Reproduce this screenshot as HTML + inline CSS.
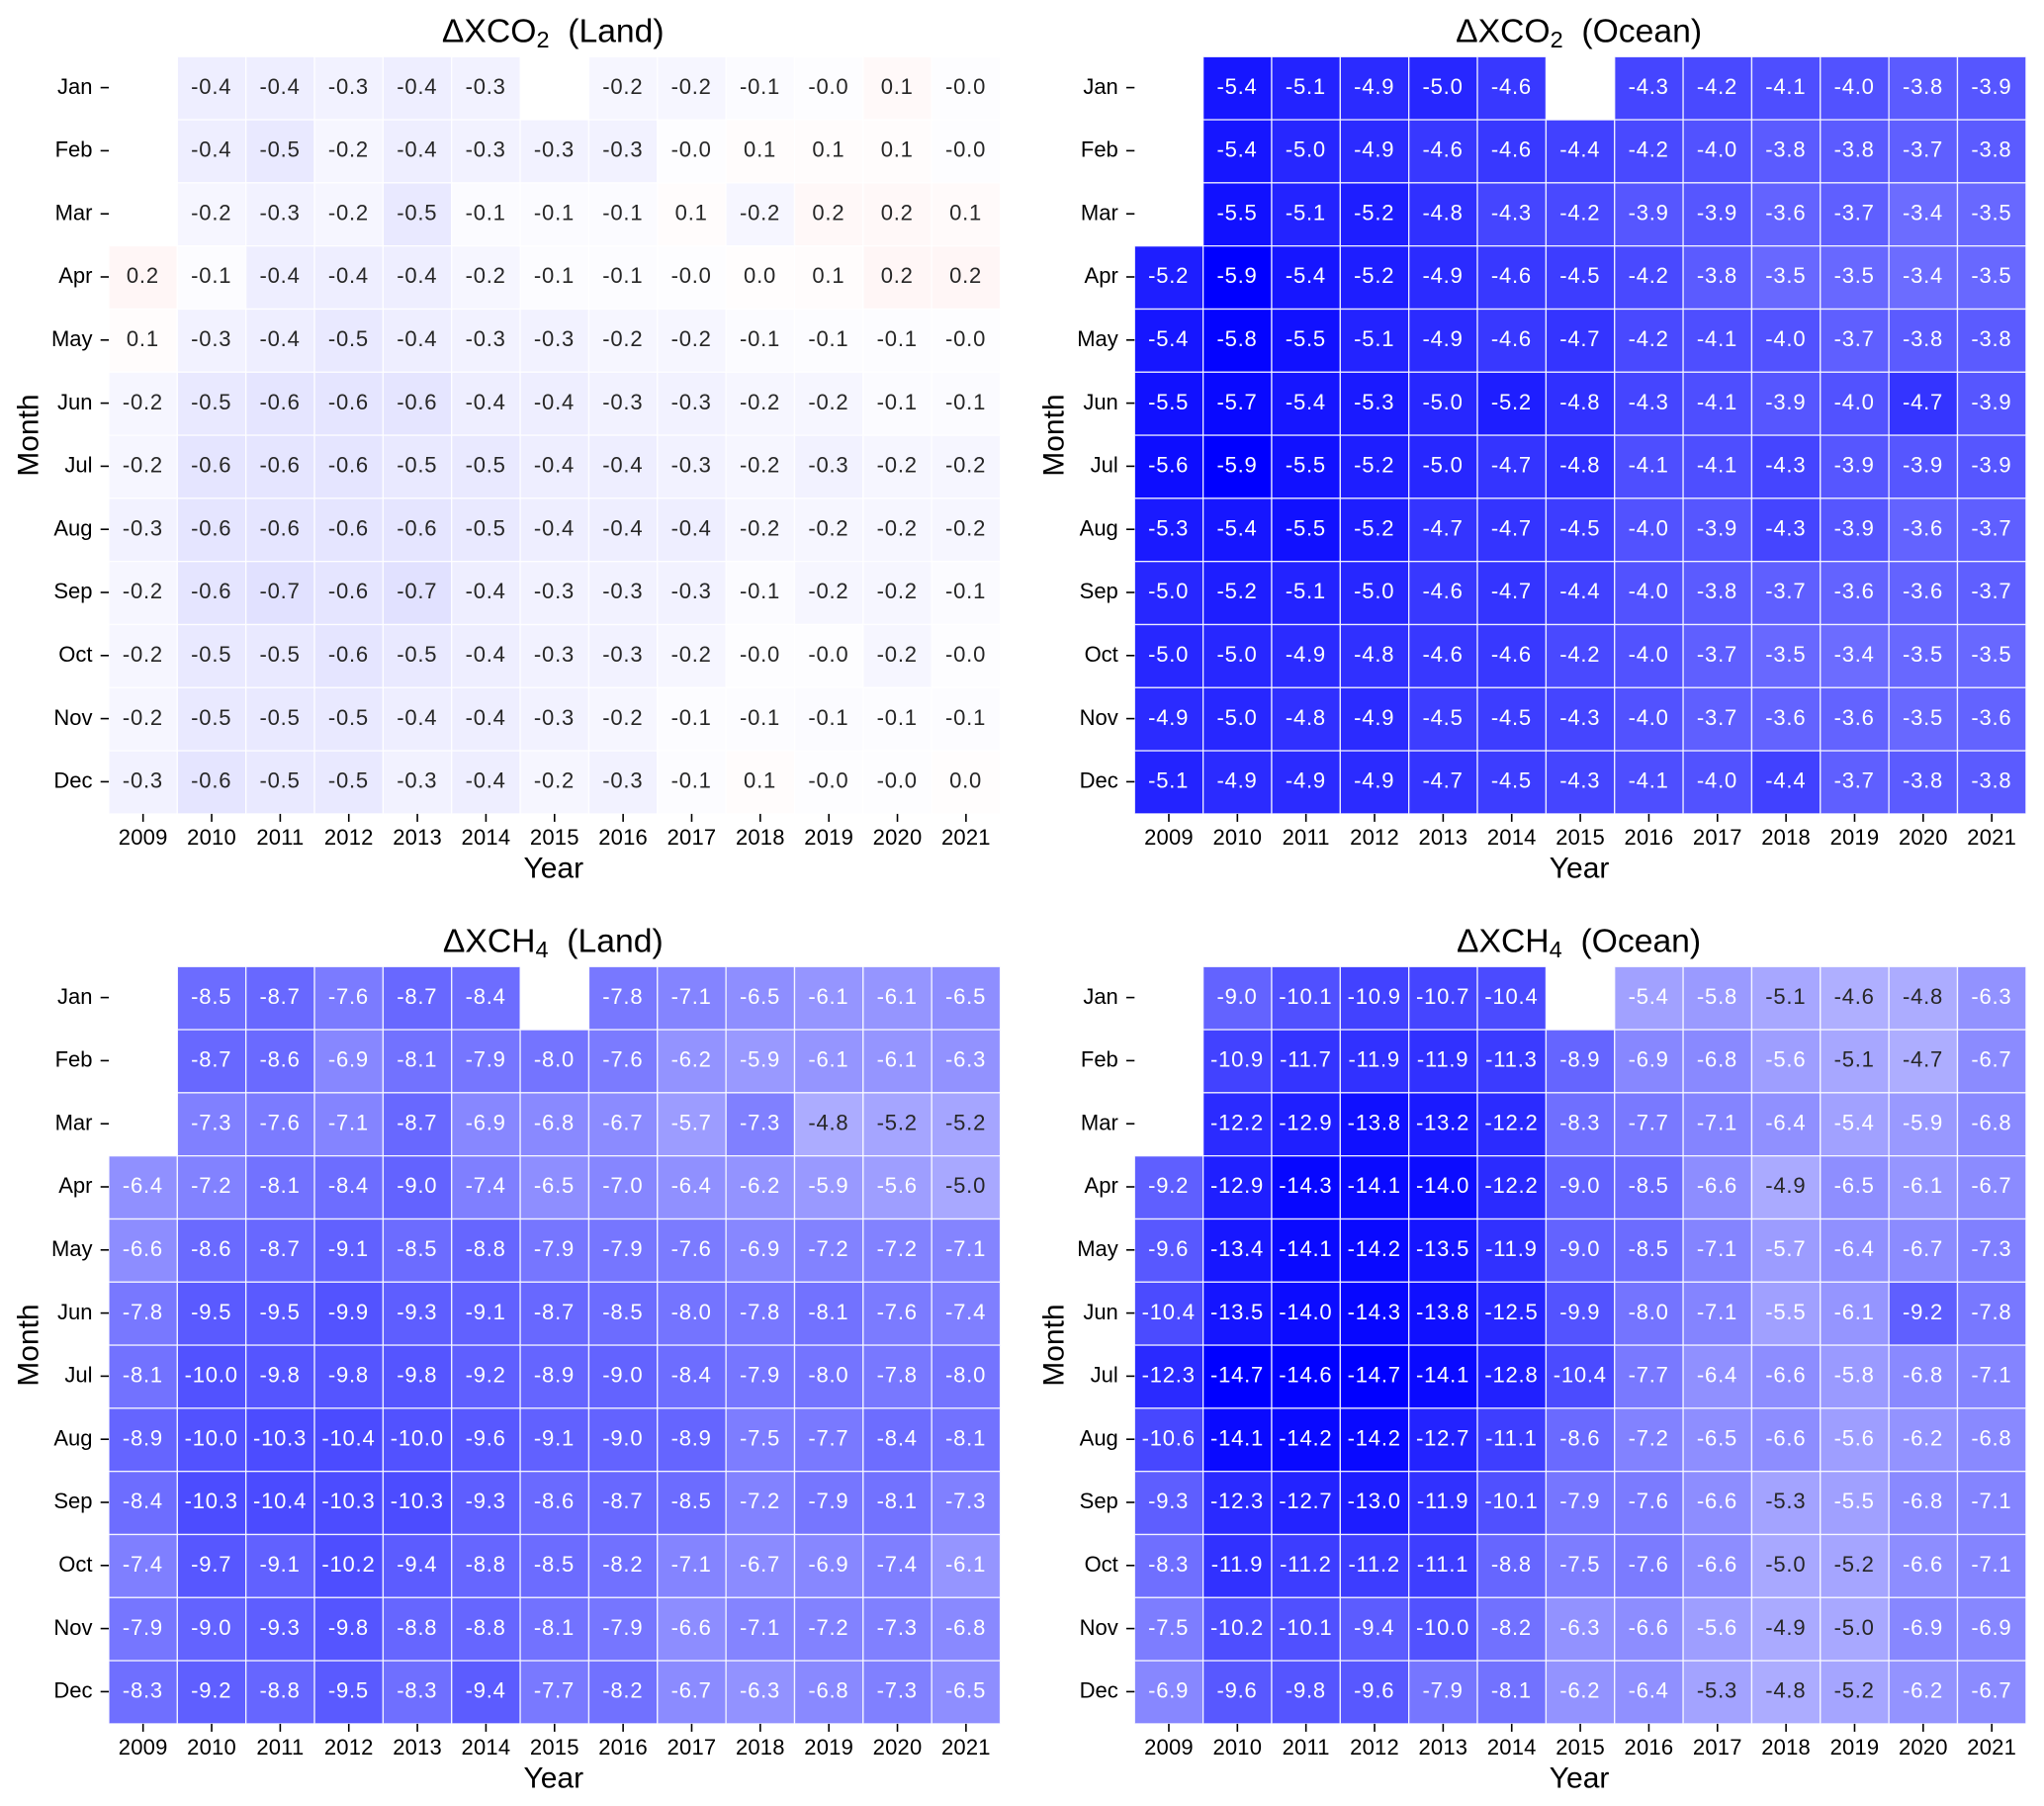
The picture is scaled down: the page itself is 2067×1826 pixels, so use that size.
<!DOCTYPE html>
<html lang="en">
<head>
<meta charset="utf-8">
<title>Monthly XCO2 and XCH4 differences by year</title>
<style>
html,body{margin:0;padding:0;background:#fff;}
svg{display:block;font-family:"Liberation Sans",Arial,sans-serif;}
</style>
</head>
<body>
<svg id="figure" xmlns="http://www.w3.org/2000/svg" width="2067" height="1826" viewBox="0 0 2067 1826"></svg>
<script>
const years = [2009,2010,2011,2012,2013,2014,2015,2016,2017,2018,2019,2020,2021];
const months = ["Jan","Feb","Mar","Apr","May","Jun","Jul","Aug","Sep","Oct","Nov","Dec"];
const colorLimitCO2 = 5.9;
const colorLimitCH4 = 14.7;

const xco2Land = [
[null,-0.4,-0.4,-0.3,-0.4,-0.3,null,-0.2,-0.2,-0.1,-0.04,0.14,-0.04],
[null,-0.4,-0.5,-0.2,-0.4,-0.3,-0.3,-0.3,-0.04,0.06,0.06,0.06,-0.04],
[null,-0.2,-0.3,-0.2,-0.5,-0.1,-0.1,-0.1,0.06,-0.2,0.16,0.16,0.12],
[0.2,-0.07,-0.4,-0.4,-0.4,-0.2,-0.07,-0.07,-0.04,0.04,0.06,0.2,0.2],
[0.06,-0.3,-0.4,-0.5,-0.4,-0.3,-0.3,-0.2,-0.2,-0.1,-0.07,-0.07,-0.04],
[-0.2,-0.5,-0.6,-0.6,-0.6,-0.4,-0.4,-0.3,-0.3,-0.2,-0.2,-0.1,-0.1],
[-0.2,-0.6,-0.6,-0.6,-0.5,-0.5,-0.4,-0.4,-0.3,-0.2,-0.3,-0.2,-0.2],
[-0.3,-0.6,-0.6,-0.6,-0.6,-0.5,-0.4,-0.4,-0.4,-0.2,-0.2,-0.2,-0.2],
[-0.2,-0.6,-0.7,-0.6,-0.7,-0.4,-0.3,-0.3,-0.3,-0.1,-0.2,-0.2,-0.1],
[-0.2,-0.5,-0.5,-0.6,-0.5,-0.4,-0.3,-0.3,-0.2,-0.04,-0.04,-0.2,-0.04],
[-0.2,-0.5,-0.5,-0.5,-0.4,-0.4,-0.3,-0.2,-0.07,-0.07,-0.1,-0.07,-0.07],
[-0.3,-0.6,-0.5,-0.5,-0.3,-0.4,-0.2,-0.3,-0.07,0.06,-0.04,-0.04,0.04]
];
const xco2Ocean = [
[null,-5.4,-5.1,-4.9,-5.0,-4.6,null,-4.3,-4.2,-4.1,-4.0,-3.8,-3.9],
[null,-5.4,-5.0,-4.9,-4.6,-4.6,-4.4,-4.2,-4.0,-3.8,-3.8,-3.7,-3.8],
[null,-5.5,-5.1,-5.2,-4.8,-4.3,-4.2,-3.9,-3.9,-3.6,-3.7,-3.4,-3.5],
[-5.2,-5.9,-5.4,-5.2,-4.9,-4.6,-4.5,-4.2,-3.8,-3.5,-3.5,-3.4,-3.5],
[-5.4,-5.8,-5.5,-5.1,-4.9,-4.6,-4.7,-4.2,-4.1,-4.0,-3.7,-3.8,-3.8],
[-5.5,-5.7,-5.4,-5.3,-5.0,-5.2,-4.8,-4.3,-4.1,-3.9,-4.0,-4.7,-3.9],
[-5.6,-5.9,-5.5,-5.2,-5.0,-4.7,-4.8,-4.1,-4.1,-4.3,-3.9,-3.9,-3.9],
[-5.3,-5.4,-5.5,-5.2,-4.7,-4.7,-4.5,-4.0,-3.9,-4.3,-3.9,-3.6,-3.7],
[-5.0,-5.2,-5.1,-5.0,-4.6,-4.7,-4.4,-4.0,-3.8,-3.7,-3.6,-3.6,-3.7],
[-5.0,-5.0,-4.9,-4.8,-4.6,-4.6,-4.2,-4.0,-3.7,-3.5,-3.4,-3.5,-3.5],
[-4.9,-5.0,-4.8,-4.9,-4.5,-4.5,-4.3,-4.0,-3.7,-3.6,-3.6,-3.5,-3.6],
[-5.1,-4.9,-4.9,-4.9,-4.7,-4.5,-4.3,-4.1,-4.0,-4.4,-3.7,-3.8,-3.8]
];
const xch4Land = [
[null,-8.5,-8.7,-7.6,-8.7,-8.4,null,-7.8,-7.1,-6.5,-6.1,-6.1,-6.5],
[null,-8.7,-8.6,-6.9,-8.1,-7.9,-8.0,-7.6,-6.2,-5.9,-6.1,-6.1,-6.3],
[null,-7.3,-7.6,-7.1,-8.7,-6.9,-6.8,-6.7,-5.7,-7.3,-4.8,-5.2,-5.2],
[-6.4,-7.2,-8.1,-8.4,-9.0,-7.4,-6.5,-7.0,-6.4,-6.2,-5.9,-5.6,-5.0],
[-6.6,-8.6,-8.7,-9.1,-8.5,-8.8,-7.9,-7.9,-7.6,-6.9,-7.2,-7.2,-7.1],
[-7.8,-9.5,-9.5,-9.9,-9.3,-9.1,-8.7,-8.5,-8.0,-7.8,-8.1,-7.6,-7.4],
[-8.1,-10.0,-9.8,-9.8,-9.8,-9.2,-8.9,-9.0,-8.4,-7.9,-8.0,-7.8,-8.0],
[-8.9,-10.0,-10.3,-10.4,-10.0,-9.6,-9.1,-9.0,-8.9,-7.5,-7.7,-8.4,-8.1],
[-8.4,-10.3,-10.4,-10.3,-10.3,-9.3,-8.6,-8.7,-8.5,-7.2,-7.9,-8.1,-7.3],
[-7.4,-9.7,-9.1,-10.2,-9.4,-8.8,-8.5,-8.2,-7.1,-6.7,-6.9,-7.4,-6.1],
[-7.9,-9.0,-9.3,-9.8,-8.8,-8.8,-8.1,-7.9,-6.6,-7.1,-7.2,-7.3,-6.8],
[-8.3,-9.2,-8.8,-9.5,-8.3,-9.4,-7.7,-8.2,-6.7,-6.3,-6.8,-7.3,-6.5]
];
const xch4Ocean = [
[null,-9.0,-10.1,-10.9,-10.7,-10.4,null,-5.4,-5.8,-5.1,-4.6,-4.8,-6.3],
[null,-10.9,-11.7,-11.9,-11.9,-11.3,-8.9,-6.9,-6.8,-5.6,-5.1,-4.7,-6.7],
[null,-12.2,-12.9,-13.8,-13.2,-12.2,-8.3,-7.7,-7.1,-6.4,-5.4,-5.9,-6.8],
[-9.2,-12.9,-14.3,-14.1,-14.0,-12.2,-9.0,-8.5,-6.6,-4.9,-6.5,-6.1,-6.7],
[-9.6,-13.4,-14.1,-14.2,-13.5,-11.9,-9.0,-8.5,-7.1,-5.7,-6.4,-6.7,-7.3],
[-10.4,-13.5,-14.0,-14.3,-13.8,-12.5,-9.9,-8.0,-7.1,-5.5,-6.1,-9.2,-7.8],
[-12.3,-14.7,-14.6,-14.7,-14.1,-12.8,-10.4,-7.7,-6.4,-6.6,-5.8,-6.8,-7.1],
[-10.6,-14.1,-14.2,-14.2,-12.7,-11.1,-8.6,-7.2,-6.5,-6.6,-5.6,-6.2,-6.8],
[-9.3,-12.3,-12.7,-13.0,-11.9,-10.1,-7.9,-7.6,-6.6,-5.3,-5.5,-6.8,-7.1],
[-8.3,-11.9,-11.2,-11.2,-11.1,-8.8,-7.5,-7.6,-6.6,-5.0,-5.2,-6.6,-7.1],
[-7.5,-10.2,-10.1,-9.4,-10.0,-8.2,-6.3,-6.6,-5.6,-4.9,-5.0,-6.9,-6.9],
[-6.9,-9.6,-9.8,-9.6,-7.9,-8.1,-6.2,-6.4,-5.3,-4.8,-5.2,-6.2,-6.7]
];

const svgNS = "http://www.w3.org/2000/svg";
const figure = document.getElementById("figure");

function make(tag, attrs, parent, text) {
  const el = document.createElementNS(svgNS, tag);
  for (const k in attrs) el.setAttribute(k, attrs[k]);
  if (text !== undefined) el.textContent = text;
  parent.appendChild(el);
  return el;
}

function bwrRgb(v, limit) {
  const t = Math.max(-1, Math.min(1, v / limit));
  if (t <= 0) {
    const c = Math.round(255 * (1 + t));
    return [c, c, 255];
  }
  const c = Math.round(255 * (1 - t));
  return [255, c, c];
}

function luminance(rgb) {
  const lin = rgb.map(function (c) {
    const s = c / 255;
    return s <= 0.03928 ? s / 12.92 : Math.pow((s + 0.055) / 1.055, 2.4);
  });
  return 0.2126 * lin[0] + 0.7152 * lin[1] + 0.0722 * lin[2];
}

function drawPanel(panelName, gas, region, values, limit, left, top) {
  const cellW = 69.35;
  const cellH = 63.8;
  const xAt = function (i) { return left + i * cellW; };
  const yAt = function (j) { return top + j * cellH; };

  const panel = make("g", {}, figure);
  
  

  const centerX = left + cellW * years.length / 2;

  const title = make("text", {x: centerX - 1.5, y: top - 14.6, "text-anchor": "middle", "font-size": 33.7, fill: "#000"}, panel);
  
  
  make("tspan", {}, title, "\u0394X" + gas[0]);
  make("tspan", {dy: 5.5, "font-size": 23.5}, title, gas[1]);
  make("tspan", {dy: -5.5}, title, "\u00A0\u00A0(" + region + ")");

  values.forEach(function (row, j) {
    row.forEach(function (v, i) {
      if (v === null) return;
      const rgb = bwrRgb(v, limit);
      const cell = make("rect", {x: xAt(i), y: yAt(j), width: cellW, height: cellH, fill: "rgb(" + rgb.join(",") + ")", stroke: "#fff", "stroke-width": 1.3, "stroke-opacity": 0.85}, panel);
      
      
      const label = make("text", {x: xAt(i) + cellW / 2 - 0.3, y: yAt(j) + cellH / 2 + 5.6, "text-anchor": "middle", "font-size": 22, "letter-spacing": 0.8, fill: luminance(rgb) > 0.408 ? "#262626" : "#fff"}, panel, v.toFixed(1));
      
      
    });
  });

  const bottom = yAt(months.length);

  years.forEach(function (year, i) {
    const cx = xAt(i) + cellW / 2;
    const tick = make("line", {x1: cx, x2: cx, y1: bottom, y2: bottom + 8, stroke: "#000", "stroke-width": 1.6}, panel);
    
    
    const label = make("text", {x: cx, y: bottom + 31, "text-anchor": "middle", "font-size": 22, "letter-spacing": 0.2, fill: "#000"}, panel, String(year));
    
    
  });

  months.forEach(function (month, j) {
    const cy = yAt(j) + cellH / 2;
    const tick = make("line", {x1: left - 8.3, x2: left, y1: cy - 0.6, y2: cy - 0.6, stroke: "#000", "stroke-width": 1.6}, panel);
    
    
    const label = make("text", {x: left - 16.5, y: cy + 5.6, "text-anchor": "end", "font-size": 22, fill: "#000"}, panel, month);
    
    
  });

  const xTitle = make("text", {x: centerX - 1, y: bottom + 64.5, "text-anchor": "middle", "font-size": 30, fill: "#000"}, panel, "Year");
  
  

  const midY = top + cellH * months.length / 2;
  const yTitle = make("text", {x: 0, y: 0, transform: "translate(" + (left - 71.7) + " " + midY + ") rotate(-90)", "text-anchor": "middle", "font-size": 30, fill: "#000"}, panel, "Month");
  
  
}

drawPanel("xco2-land", ["CO", "2"], "Land", xco2Land, colorLimitCO2, 110, 57.3);
drawPanel("xco2-ocean", ["CO", "2"], "Ocean", xco2Ocean, colorLimitCO2, 1147.3, 57.3);
drawPanel("xch4-land", ["CH", "4"], "Land", xch4Land, colorLimitCH4, 110, 977.3);
drawPanel("xch4-ocean", ["CH", "4"], "Ocean", xch4Ocean, colorLimitCH4, 1147.3, 977.3);
</script>
</body>
</html>
